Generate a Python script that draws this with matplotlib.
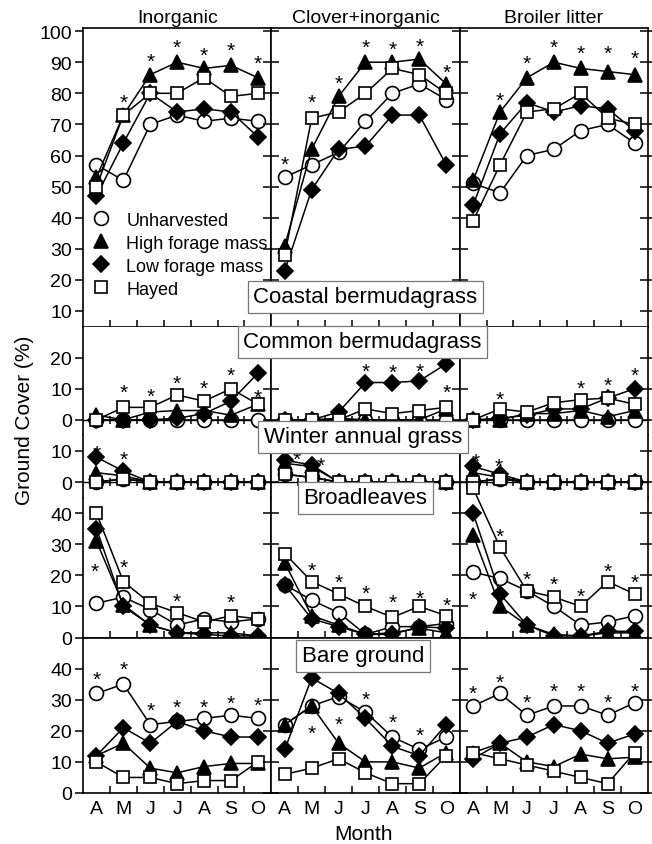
import matplotlib
matplotlib.use("Agg")
import matplotlib.pyplot as plt
from matplotlib.lines import Line2D
from matplotlib.patches import Rectangle

plt.rcParams['font.family'] = ['Liberation Sans', 'DejaVu Sans']

months = ['A', 'M', 'J', 'J', 'A', 'S', 'O']
columns = ['Inorganic', 'Clover+inorganic', 'Broiler litter']
treatments = ['Unharvested', 'High forage mass', 'Low forage mass', 'Hayed']
row_names = ['Coastal bermudagrass', 'Common bermudagrass', 'Winter annual grass',
             'Broadleaves', 'Bare ground']

# each: [Inorganic, Clover+inorganic, Broiler litter]
coastal_unharv = [[57, 52, 70, 73, 71, 72, 71], [53, 57, 61, 71, 80, 83, 78], [51, 48, 60, 62, 68, 70, 64]]
coastal_high = [[53, 73, 86, 90, 88, 89, 85], [31, 62, 79, 90, 90, 91, 83], [52, 74, 85, 90, 88, 87, 86]]
coastal_low = [[47, 64, 80, 74, 75, 74, 66], [23, 49, 62, 63, 73, 73, 57], [44, 67, 77, 74, 76, 75, 68]]
coastal_hayed = [[50, 73, 80, 80, 85, 79, 80], [28, 72, 74, 80, 88, 86, 80], [39, 57, 74, 75, 80, 72, 70]]

common_unharv = [[0, 0, 0, 0, 0, 0, 0], [0, 0, 0, 0, 0, 0, 0], [0, 0, 0, 0, 0, 0, 0]]
common_high = [[1.5, 0, 2.5, 3, 3, 1.5, 5], [0, 0, 0.5, 0, 0, 0, 3.5], [0, 0, 2, 2, 3, 1, 3]]
common_low = [[0, 0, 0, 0.5, 2, 6, 15], [0, 0, 2.5, 12, 12, 12.5, 18], [0, 0.5, 1.5, 3.5, 3.5, 7, 10]]
common_hayed = [[0, 4, 4, 8, 6, 10, 5], [0, 0, 0, 3.5, 2, 3, 4], [0, 3.5, 2.5, 5.5, 6.5, 7, 5]]

winter_unharv = [[0, 1, 0, 0, 0, 0, 0], [2.5, 1.5, 0, 0, 0, 0, 0], [0, 1, 0, 0, 0, 0, 0]]
winter_high = [[3, 2, 0, 0, 0, 0, 0], [6, 5, 0, 0, 0, 0, 0], [3, 1.5, 0, 0, 0, 0, 0]]
winter_low = [[8, 3.5, 0, 0, 0, 0, 0], [7, 5.5, 0, 0, 0, 0, 0], [5, 2.5, 0, 0, 0, 0, 0]]
winter_hayed = [[0, 1, 0, 0, 0, 0, 0], [2.5, 1.5, 0, 0, 0, 0, 0], [0, 1, 0, 0, 0, 0, 0]]

broad_unharv = [[11, 13, 9, 4, 6, 5, 6], [17, 12, 8, 1, 3.5, 3.5, 4.5], [21, 19, 15, 10, 4, 5, 7]]
broad_high = [[31, 10.5, 4, 1.5, 1.5, 1.5, 0.5], [24, 7, 4, 1, 1.5, 3, 1.5], [33, 10, 4, 1, 0.5, 1.5, 1.5]]
broad_low = [[35, 10, 4, 1.5, 1, 0.5, 0.5], [17, 6, 3.5, 1, 1, 3.5, 3], [40, 14, 4, 0.5, 0.5, 2, 2]]
broad_hayed = [[40, 18, 11, 8, 5, 7, 6], [27, 18, 14, 10, 6.5, 10, 7], [48, 29, 15, 13, 10, 18, 14]]

bare_unharv = [[32, 35, 22, 23, 24, 25, 24], [22, 28, 31, 26, 18, 14, 18], [28, 32, 25, 28, 28, 25, 29]]
bare_high = [[12, 16, 8, 6.5, 8.5, 9.5, 9.5], [22, 28, 16, 10, 10, 8, 13], [13, 16, 10, 8.5, 12.5, 11, 11.5]]
bare_low = [[12, 21, 16, 23, 20, 18, 18], [14, 37, 32, 24, 15, 12, 22], [11, 16, 18, 22, 20, 16, 19]]
bare_hayed = [[10, 5, 5, 3, 4, 4, 10], [6, 8, 11, 6.5, 3, 3, 12], [13, 11, 9, 7, 5, 3, 13]]

# significance asterisks: (month position, value)
coastal_stars = [[(2, 79), (3, 92), (4, 96.5), (5, 94), (6, 95.5), (7, 91.5)],
                 [(1, 59), (2, 79), (3, 85), (4, 96.5), (5, 96), (6, 97), (7, 88.5)],
                 [(2, 79.5), (3, 91.5), (4, 96.5), (5, 94.5), (6, 94.5), (7, 93)]]
common_stars = [[(2, 10.5), (3, 9.5), (4, 13.5), (5, 12), (6, 16), (7, 9)],
                [(4, 17.5), (5, 17), (6, 17.5), (7, 10.5)],
                [(2, 8.5), (5, 12), (6, 13), (7, 16)]]
winter_stars = [[(1, 11), (2, 9)], [(1.45, 9), (2.35, 7.3)], [(1.1, 8.6), (1.95, 7)]]
broad_stars = [[(0.95, 23), (2, 24.5), (4, 13.5), (6, 13)],
               [(2, 23.5), (3, 19.5), (4, 16), (5, 13), (6, 14.5), (7, 12)],
               [(1, 14), (2, 34.5), (3, 20.5), (4, 19), (5, 15), (6, 23), (7, 19.5)]]
bare_stars = [[(1, 38.5), (2, 41.5), (3, 28.5), (4, 29.5), (5, 29.5), (6, 30.5), (7, 30)],
              [(2, 21), (3, 24), (4, 32), (5, 24.5), (6, 20.5)],
              [(1, 34), (2, 37.5), (3, 31), (4, 34.5), (5, 34.5), (6, 31), (7, 34.5)]]

rows = [
    (coastal_unharv, coastal_high, coastal_low, coastal_hayed, coastal_stars),
    (common_unharv, common_high, common_low, common_hayed, common_stars),
    (winter_unharv, winter_high, winter_low, winter_hayed, winter_stars),
    (broad_unharv, broad_high, broad_low, broad_hayed, broad_stars),
    (bare_unharv, bare_high, bare_low, bare_hayed, bare_stars),
]
ylims = [(5, 101), (-5, 30), (-5, 15), (0, 45), (0, 50)]
yticks = [range(10, 101, 10), [0, 10, 20], [0, 10], range(0, 41, 10), range(0, 41, 10)]

styles = [
    dict(marker='o', mfc='white', ms=10),
    dict(marker='^', mfc='black', ms=10),
    dict(marker='D', mfc='black', ms=8),
    dict(marker='s', mfc='white', ms=9),
]
draw_order = [0, 3, 1, 2]

fig = plt.figure(figsize=(6.52, 8.45), dpi=100)
heights = [lim[1] - lim[0] for lim in ylims]
gs = fig.add_gridspec(5, 3, height_ratios=heights, left=83 / 652, right=648 / 652,
                      top=1 - 29 / 845, bottom=1 - 794 / 845, wspace=0, hspace=0)

x = list(range(1, 8))
for r, row in enumerate(rows):
    series = row[:4]
    stars = row[4]
    for c in range(3):
        ax = fig.add_subplot(gs[r, c])
        clip = Rectangle((0, 0), 1, 1.3, transform=ax.transAxes)
        for k in draw_order:
            ln, = ax.plot(x, series[k][c], color='black', lw=1.1, mec='black',
                          mew=1.2, zorder=3 + k, **styles[k])
            if r == 3:
                ln.set_clip_path(clip)
            elif r in (1, 2):
                ln.set_clip_on(False)
        for sx, sy in stars[c]:
            ax.annotate('*', (sx, sy), xytext=(0, -8), textcoords='offset points',
                        ha='center', va='baseline', fontsize=15, zorder=10,
                        annotation_clip=False)
        ax.set_xlim(0.5, 7.5)
        ax.set_ylim(*ylims[r])
        ax.set_yticks(list(yticks[r]))
        for sp in ax.spines.values():
            sp.set_linewidth(1.2)
        if r in (1, 2):
            ax.spines['bottom'].set_position(('data', 0))
            ax.spines['bottom'].set_linewidth(1.0)
        if r in (1, 2, 3):
            ax.spines['top'].set_visible(False)
        ax.set_xticks(x)
        ax.set_xticks([i + 0.5 for i in range(1, 7)], minor=True)
        ax.tick_params(axis='x', which='major', length=0, pad=5, labelsize=14)
        xdir = 'inout' if r in (1, 2) else 'in'
        ax.tick_params(axis='x', which='minor', direction=xdir, length=6 if r in (1, 2) else 5,
                       width=1.1, top=False, bottom=True)
        if r == 4:
            ax.set_xticklabels(months)
        else:
            ax.set_xticklabels([])
        if c == 0:
            ax.tick_params(axis='y', direction='out', length=6, width=1.1,
                           left=True, right=False, labelsize=14, pad=2)
        else:
            ax.tick_params(axis='y', direction='inout', length=11, width=1.1,
                           left=True, right=(c == 2), labelleft=False)
        if r == 0:
            ax.set_title(columns[c], fontsize=14, pad=4)
        if r == 0 and c == 0:
            handles = [Line2D([], [], ls='none', color='black', mec='black', mew=1.2,
                              **styles[k]) for k in range(4)]
            ax.legend(handles, treatments, loc='upper left', bbox_to_anchor=(0.0, 0.415),
                      frameon=False, fontsize=13, handlelength=1.0, handletextpad=0.9,
                      labelspacing=0.33, borderaxespad=0.3, borderpad=0.2)

box = dict(boxstyle='square,pad=0.25', fc='white', ec='#777777', lw=0.9)
label_pos = [(0.560, 1 - 298 / 845), (0.556, 1 - 343 / 845), (0.557, 1 - 438 / 845),
             (0.560, 1 - 499 / 845), (0.557, 1 - 657 / 845)]
for name, (lx, ly) in zip(row_names, label_pos):
    fig.text(lx, ly, name, fontsize=16, ha='center', va='center', bbox=box, zorder=20)

fig.text(0.038, 0.503, 'Ground Cover (%)', rotation=90, fontsize=15, ha='center', va='center')
fig.text(0.557, 0.013, 'Month', fontsize=15, ha='center', va='center')

fig.savefig('out.png', dpi=100)
